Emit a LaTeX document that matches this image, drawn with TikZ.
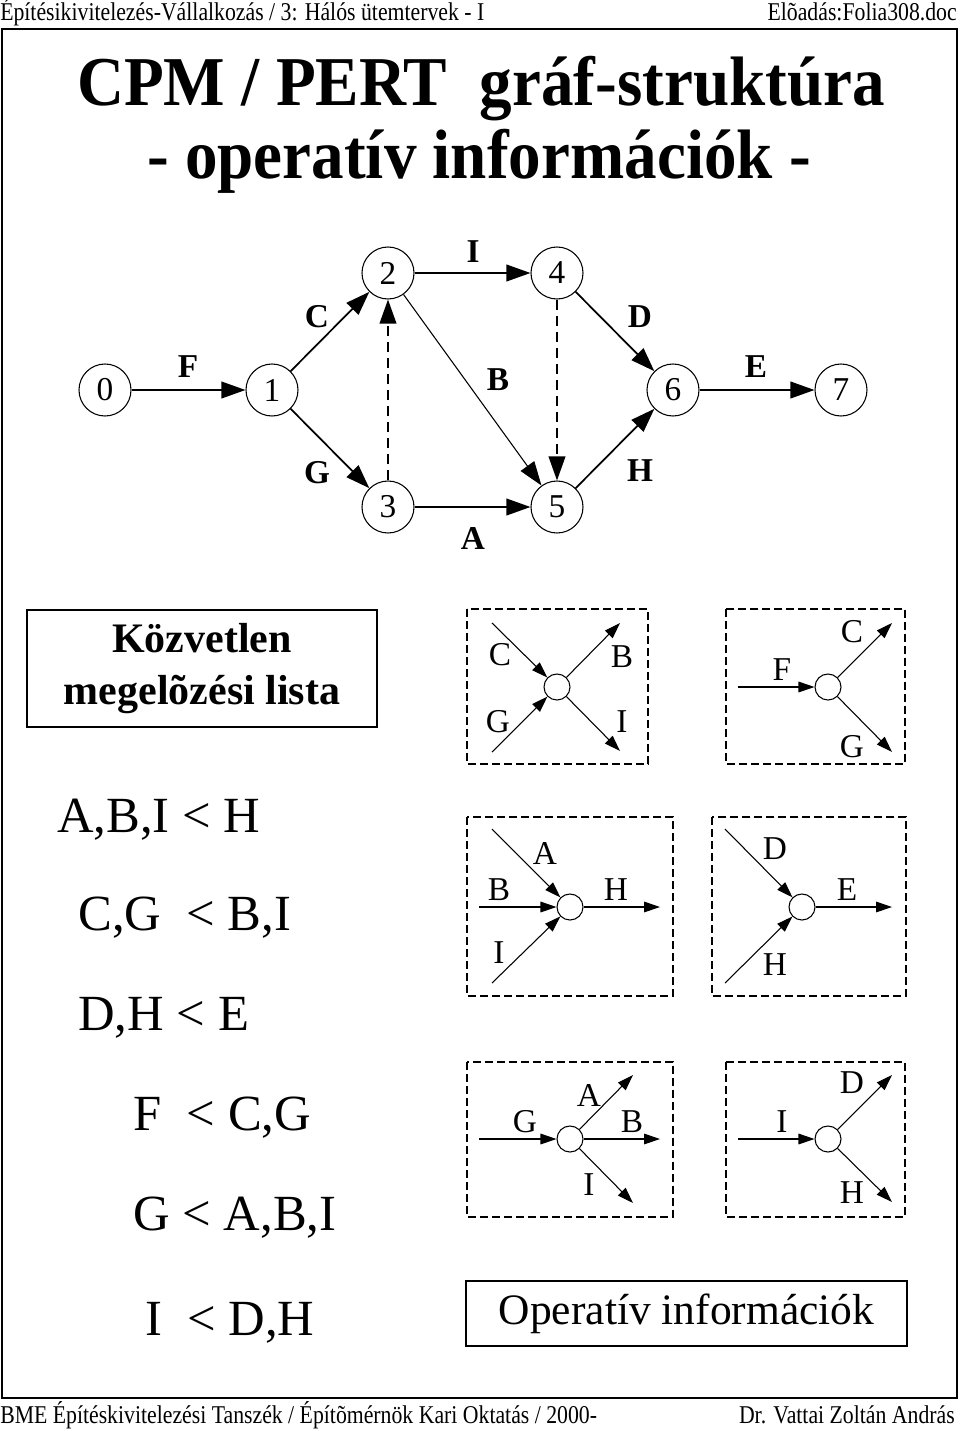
\documentclass[tikz,border=0pt]{standalone}
\usepackage{fontspec}
\setmainfont{Liberation Serif}
\newfontfamily\narrowserif[FakeStretch=0.85]{Liberation Serif}
\newfontfamily\titleserif[FakeStretch=0.93]{Liberation Serif}
\usetikzlibrary{arrows.meta}

\begin{document}
\begin{tikzpicture}
	[x=0.75pt, y=-0.75pt,
	event/.style={circle, draw, line width=0.8pt, minimum size=39pt, inner sep=0pt, font=\fontsize{25}{25}\selectfont},
	act/.style={line width=1.3pt, -{Triangle[length=18pt,width=12.5pt]}},
	dummy/.style={act, dash pattern=on 7.5pt off 4.5pt},
	alabel/.style={inner sep=0pt, font=\bfseries\fontsize{25}{25}\selectfont},
	knot/.style={circle, draw, line width=0.8pt, minimum size=19.5pt, inner sep=0pt},
	sarrow/.style={line width=0.8pt, -{Triangle[length=12pt,width=8pt]}},
	slabel/.style={inner sep=0pt, font=\fontsize{25}{25}\selectfont},
	dbox/.style={draw, line width=0.8pt, dash pattern=on 6pt off 3pt},
	prec/.style={anchor=base west, inner sep=0pt, font=\fontsize{38}{38}\selectfont},
	small/.style={inner sep=0pt, font=\narrowserif\fontsize{19.2}{19.2}\selectfont},
	titletext/.style={anchor=base, inner sep=0pt, font=\titleserif\bfseries\fontsize{52.5}{52.5}\selectfont}]

	\useasboundingbox (0,0) rectangle (960,1431);

	% header and frame
	\node[small, anchor=base west] (hleft) at (0,20) {Építésikivitelezés-Vállalkozás / 3: Hálós ütemtervek - I};
	\node[small, anchor=base east] (hright) at (957,20) {Elõadás:Folia308.doc};
	\draw[line width=0.8pt] (2,29) rectangle (957,1398);
	\node[small, anchor=base west] (fleft) at (0,1423) {BME Építéskivitelezési Tanszék / Építõmérnök Kari Oktatás / 2000-};
	\node[small, anchor=base east] (fright) at (955,1423) {Dr. Vattai Zoltán András};

	% title
	\node[titletext] (title1) at (481,105) {CPM / PERT\ \ gráf-struktúra};
	\node[titletext] (title2) at (479,178) {- operatív információk -};

	% network
	\node[event] (n0) at (105,390) {0};
	\node[event] (n1) at (272,390) {1};
	\node[event] (n2) at (388,273) {2};
	\node[event] (n3) at (388,507) {3};
	\node[event] (n4) at (557,273) {4};
	\node[event] (n5) at (557,507) {5};
	\node[event] (n6) at (673,390) {6};
	\node[event] (n7) at (841,390) {7};

	\draw[act] (n0) -- (n1);
	\draw[act] (n1) -- (n2);
	\draw[act] (n1) -- (n3);
	\draw[act] (n2) -- (n4);
	\draw[act, line width=0.8pt] (n2) -- (n5);
	\draw[act] (n3) -- (n5);
	\draw[dummy] (n3) -- (n2);
	\draw[dummy] (n4) -- (n5);
	\draw[act] (n4) -- (n6);
	\draw[act] (n5) -- (n6);
	\draw[act] (n6) -- (n7);

	\node[alabel] (lF) at (188,367) {F};
	\node[alabel] (lC) at (317,317) {C};
	\node[alabel] (lG) at (317,473) {G};
	\node[alabel] (lI) at (473,252) {I};
	\node[alabel] (lB) at (498,380) {B};
	\node[alabel] (lA) at (473,538) {A};
	\node[alabel] (lD) at (640,317) {D};
	\node[alabel] (lH) at (640,471) {H};
	\node[alabel] (lE) at (756,367) {E};

	% precedence list
	\node[draw, line width=0.8pt, minimum width=262.5pt, minimum height=87.75pt, align=center,
		font=\bfseries\fontsize{31.5}{39}\selectfont] (lista) at (202,668.5) {Közvetlen\\megelõzési lista};
	\node[prec] (p1) at (57,832) {A,B,I < H};
	\node[prec] (p2) at (78,930) {C,G\ \ < B,I};
	\node[prec] (p3) at (78,1030) {D,H < E};
	\node[prec] (p4) at (133,1130) {F\ \ < C,G};
	\node[prec] (p5) at (133,1230) {G < A,B,I};
	\node[prec] (p6) at (145,1335) {I\ \ < D,H};

	% operative information, box 1
	\draw[dbox] (467,609) rectangle (648,764);
	\node[knot] (k1) at (557,687) {};
	\coordinate (k1c) at (492,623);
	\coordinate (k1g) at (492,752);
	\coordinate (k1b) at (620,623);
	\coordinate (k1i) at (620,751);
	\draw[sarrow] (k1c) -- (k1);
	\draw[sarrow] (k1g) -- (k1);
	\draw[sarrow] (k1) -- (k1b);
	\draw[sarrow] (k1) -- (k1i);
	\node[slabel] at (500,655) {C};
	\node[slabel] at (498,722) {G};
	\node[slabel] at (622,657) {B};
	\node[slabel] at (622,722) {I};

	% box 2
	\draw[dbox] (726,609) rectangle (905,764);
	\node[knot] (k2) at (828,687) {};
	\coordinate (k2f) at (738,687);
	\coordinate (k2c) at (892,623);
	\coordinate (k2g) at (892,752);
	\draw[sarrow] (k2f) -- (k2);
	\draw[sarrow] (k2) -- (k2c);
	\draw[sarrow] (k2) -- (k2g);
	\node[slabel] at (782,670) {F};
	\node[slabel] at (852,632) {C};
	\node[slabel] at (852,747) {G};

	% box 3
	\draw[dbox] (467,817) rectangle (673,996);
	\node[knot] (k3) at (570,907) {};
	\coordinate (k3a) at (492,829);
	\coordinate (k3b) at (479,907);
	\coordinate (k3i) at (492,983);
	\coordinate (k3h) at (660,907);
	\draw[sarrow] (k3a) -- (k3);
	\draw[sarrow] (k3b) -- (k3);
	\draw[sarrow] (k3i) -- (k3);
	\draw[sarrow] (k3) -- (k3h);
	\node[slabel] at (545,853) {A};
	\node[slabel] at (499,890) {B};
	\node[slabel] at (616,890) {H};
	\node[slabel] at (499,953) {I};

	% box 4
	\draw[dbox] (712,817) rectangle (906,996);
	\node[knot] (k4) at (802,907) {};
	\coordinate (k4d) at (725,829);
	\coordinate (k4h) at (725,983);
	\coordinate (k4e) at (892,907);
	\draw[sarrow] (k4d) -- (k4);
	\draw[sarrow] (k4h) -- (k4);
	\draw[sarrow] (k4) -- (k4e);
	\node[slabel] at (775,849) {D};
	\node[slabel] at (847,890) {E};
	\node[slabel] at (775,965) {H};

	% box 5
	\draw[dbox] (467,1062) rectangle (673,1217);
	\node[knot] (k5) at (570,1139) {};
	\coordinate (k5g) at (479,1139);
	\coordinate (k5a) at (633,1075);
	\coordinate (k5b) at (660,1139);
	\coordinate (k5i) at (633,1203);
	\draw[sarrow] (k5g) -- (k5);
	\draw[sarrow] (k5) -- (k5a);
	\draw[sarrow] (k5) -- (k5b);
	\draw[sarrow] (k5) -- (k5i);
	\node[slabel] at (525,1122) {G};
	\node[slabel] at (589,1095) {A};
	\node[slabel] at (632,1122) {B};
	\node[slabel] at (589,1185) {I};

	% box 6
	\draw[dbox] (726,1062) rectangle (905,1217);
	\node[knot] (k6) at (828,1139) {};
	\coordinate (k6i) at (738,1139);
	\coordinate (k6d) at (892,1075);
	\coordinate (k6h) at (892,1202);
	\draw[sarrow] (k6i) -- (k6);
	\draw[sarrow] (k6) -- (k6d);
	\draw[sarrow] (k6) -- (k6h);
	\node[slabel] at (782,1122) {I};
	\node[slabel] at (852,1083) {D};
	\node[slabel] at (852,1193) {H};

	\node[draw, line width=0.8pt, minimum width=330.75pt, minimum height=48.75pt,
		font=\fontsize{32.6}{32.6}\selectfont] (operativ) at (686.5,1313.5) {Operatív információk};

\end{tikzpicture}
\end{document}
